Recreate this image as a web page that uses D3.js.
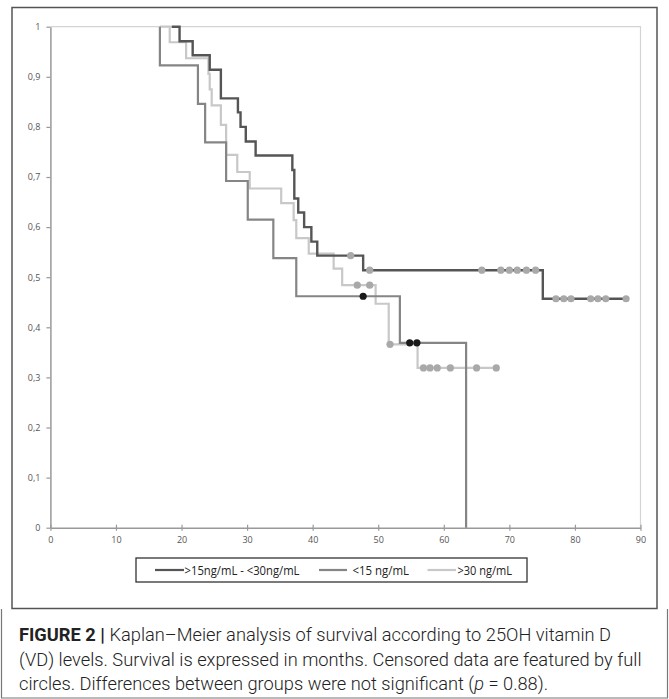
<!DOCTYPE html>
<html><head><meta charset="utf-8">
<script src="https://cdn.jsdelivr.net/npm/d3@7/dist/d3.min.js"></script>
<style>body{margin:0;background:#fff}svg{display:block}</style>
</head><body>
<script>
// ---- data ----
const xTicks = [0,10,20,30,40,50,60,70,80,90];
const yTicks = [0,0.1,0.2,0.3,0.4,0.5,0.6,0.7,0.8,0.9,1];
const yTickLabels = ["0","0,1","0,2","0,3","0,4","0,5","0,6","0,7","0,8","0,9","1"];

const seriesNames = [">15ng/mL - <30ng/mL", "<15 ng/mL", ">30 ng/mL"];

const midTimes = [18.5, 19.7, 21.7, 24.3, 26.0, 28.6, 29.0, 29.8, 31.3, 36.9, 37.2, 37.8, 38.7, 39.8, 40.7, 47.7, 75.1, 87.8];
const midSurv  = [1, 0.971, 0.943, 0.914, 0.857, 0.829, 0.800, 0.771, 0.743, 0.714, 0.657, 0.629, 0.600, 0.571, 0.543, 0.514, 0.457, 0.457];
const midCensor = [45.8, 48.7, 65.8, 68.7, 70.0, 71.2, 72.6, 74.0, 77.1, 78.3, 79.4, 82.4, 83.5, 84.7, 87.8];

const lowTimes = [16.7, 16.7, 22.5, 23.6, 26.8, 30.1, 34.0, 37.5, 53.3, 63.4];
const lowSurv  = [1, 0.923, 0.846, 0.769, 0.692, 0.615, 0.538, 0.462, 0.369, 0];
const lowCensor = [47.7, 54.8, 55.9];

const highTimes = [16.7, 18.2, 20.7, 24.1, 24.3, 24.6, 26.0, 26.8, 28.5, 30.4, 35.2, 37.1, 37.5, 39.4, 43.2, 44.5, 49.6, 51.6, 56.0, 68.0];
const highSurv  = [1, 0.969, 0.937, 0.906, 0.875, 0.843, 0.804, 0.744, 0.710, 0.677, 0.648, 0.614, 0.578, 0.547, 0.517, 0.484, 0.447, 0.366, 0.319, 0.319];
const highCensor = [46.8, 48.7, 51.8, 56.9, 57.9, 59.0, 61.0, 65.0, 68.0];

const captionLines = [
  [["FIGURE 2 | ", true], ["Kaplan\u2013Meier analysis of survival according to 25OH vitamin D", false]],
  [["(VD) levels. Survival is expressed in months. Censored data are featured by full", false]],
  [["circles. Differences between groups were not significant (", false], ["p", "i"], [" = 0.88).", false]]
];

// ---- drawing ----
const W = 669, H = 699;
const svg = d3.select("body").append("svg").attr("width", W).attr("height", H);

const x = d3.scaleLinear().domain([0, 90]).range([50.4, 640.5]);
const y = d3.scaleLinear().domain([0, 1]).range([527.7, 26.7]);

// chart frame
svg.append("rect").attr("x", 12).attr("y", 7.5).attr("width", 645).attr("height", 601)
  .attr("fill", "none").attr("stroke", "#555").attr("stroke-width", 1.5);
// caption frame
svg.append("path").attr("d", "M1.5,609 V698 H667.5 V609")
  .attr("fill", "none").attr("stroke", "#777").attr("stroke-width", 1.2);

// plot top/right border
svg.append("path")
  .attr("d", `M${x(0)},${y(1)} H${x(90)} V${y(0)}`)
  .attr("fill", "none").attr("stroke", "#d4d4d4").attr("stroke-width", 1.2);

// axes
const xAxis = d3.axisBottom(x).tickValues(xTicks).tickSizeInner(0).tickSizeOuter(0).tickPadding(9);
const gx = svg.append("g").attr("transform", `translate(0,${y(0)})`).call(xAxis);
gx.select(".domain").attr("stroke", "#999").attr("stroke-width", 1.5);
gx.selectAll(".tick line").remove();
gx.selectAll(".tick").append("line").attr("y1", -3).attr("y2", 3).attr("stroke", "#999").attr("stroke-width", 1.2);
gx.selectAll("text").attr("fill", "#555").style("font-size", "9px").style("font-family", "'Open Sans', sans-serif");

const yAxis = d3.axisLeft(y).tickValues(yTicks).tickFormat((d, i) => yTickLabels[i]).tickSizeInner(4).tickSizeOuter(0).tickPadding(6);
const gy = svg.append("g").attr("transform", `translate(${x(0)},0)`).call(yAxis);
gy.select(".domain").attr("stroke", "#999").attr("stroke-width", 1.5);
gy.selectAll(".tick line").attr("stroke", "#999").attr("stroke-width", 1.2);
gy.selectAll("text").attr("fill", "#555").style("font-size", "9px").style("font-family", "'Open Sans', sans-serif");

// curves
const line = d3.line().x(d => x(d[0])).y(d => y(d[1])).curve(d3.curveStepAfter);
function stepAt(times, surv, t) {
  let s = surv[0];
  for (let i = 0; i < times.length; i++) if (times[i] <= t) s = surv[i];
  return s;
}
const series = [
  {times: highTimes, surv: highSurv, censor: highCensor, color: "#c8c8c8", dot: "#a9a9a9", w: 2.2},
  {times: lowTimes, surv: lowSurv, censor: lowCensor, color: "#858585", dot: "#1a1a1a", w: 2.2},
  {times: midTimes, surv: midSurv, censor: midCensor, color: "#555555", dot: "#a9a9a9", w: 2.4}
];
series.forEach(s => {
  const pts = s.times.map((t, i) => [t, s.surv[i]]);
  svg.append("path").datum(pts).attr("d", line)
    .attr("fill", "none").attr("stroke", s.color).attr("stroke-width", s.w);
});
series.forEach(s => {
  svg.append("g").selectAll("circle").data(s.censor).join("circle")
    .attr("cx", d => x(d)).attr("cy", d => y(stepAt(s.times, s.surv, d)))
    .attr("r", 3.6).attr("fill", s.dot);
});

// legend
svg.append("rect").attr("x", 136).attr("y", 558).attr("width", 391).attr("height", 24)
  .attr("fill", "#fff").attr("stroke", "#333").attr("stroke-width", 1.3);
const legItems = [
  {name: seriesNames[0], color: "#555555", x1: 155, x2: 184, tx: 184.5, tw: 115},
  {name: seriesNames[1], color: "#858585", x1: 319, x2: 347, tx: 352.5, tw: 56.5},
  {name: seriesNames[2], color: "#c8c8c8", x1: 427.5, x2: 456, tx: 457.5, tw: 54.5}
];
legItems.forEach(it => {
  svg.append("line").attr("x1", it.x1).attr("x2", it.x2).attr("y1", 570).attr("y2", 570)
    .attr("stroke", it.color).attr("stroke-width", 2.2);
  svg.append("text").attr("x", it.tx).attr("y", 574.5).text(it.name)
    .attr("textLength", it.tw).attr("lengthAdjust", "spacingAndGlyphs")
    .style("font-size", "12.5px").style("font-family", "'Open Sans', sans-serif").attr("fill", "#222");
});

// caption: common horizontal compression so that line 2 spans the reference width
const capY = [641, 666, 690];
const capTexts = captionLines.map((parts, i) => {
  const t = svg.append("text").attr("x", 19).attr("y", capY[i])
    .style("font-size", "17.5px").style("font-family", "Roboto, 'Liberation Sans', sans-serif").attr("fill", "#222");
  parts.forEach(p => {
    const ts = t.append("tspan").text(p[0]);
    if (p[1] === true) ts.style("font-weight", "bold");
    else { ts.style("font-weight", "300"); if (p[1] === "i") ts.style("font-style", "italic"); }
  });
  return t;
});
const nat = capTexts.map(t => t.node().getComputedTextLength());
const factor = 623 / nat[1];
capTexts.forEach((t, i) => {
  t.attr("transform", `translate(19,0) scale(${factor},1) translate(-19,0)`);
});
</script>
</body></html>
